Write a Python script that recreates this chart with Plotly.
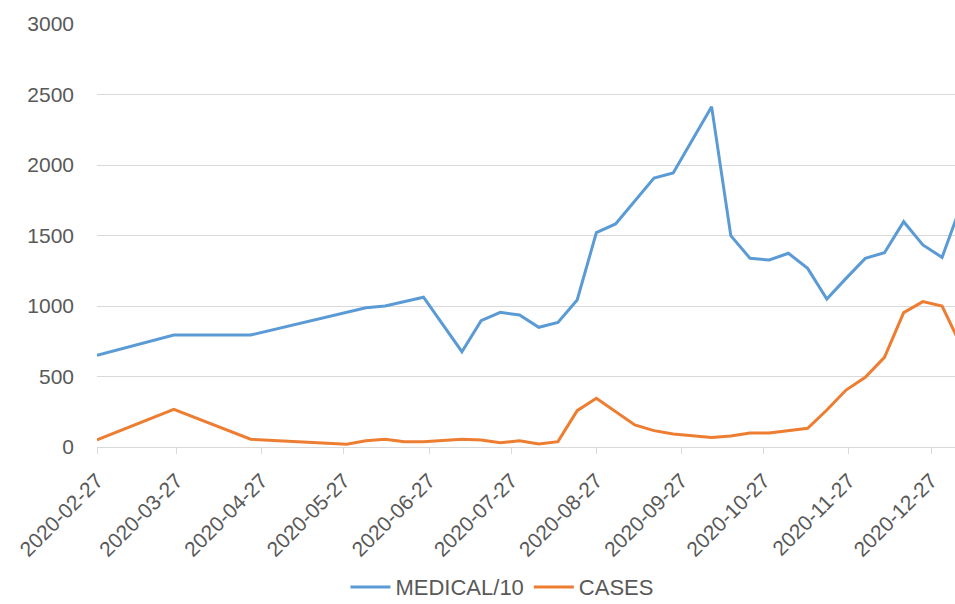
import plotly.graph_objects as go

medical_dates = ["2020-02-27", "2020-03-26", "2020-04-23", "2020-05-28", "2020-06-04",
                 "2020-06-11", "2020-06-25", "2020-07-09", "2020-07-16", "2020-07-23",
                 "2020-07-30", "2020-08-06", "2020-08-13", "2020-08-20", "2020-08-27",
                 "2020-09-03", "2020-09-17", "2020-09-24", "2020-10-08", "2020-10-15",
                 "2020-10-22", "2020-10-29", "2020-11-05", "2020-11-12", "2020-11-19",
                 "2020-11-26", "2020-12-03", "2020-12-10", "2020-12-17", "2020-12-24",
                 "2020-12-31", "2021-01-07"]
medical_div10 = [650, 794, 794, 955, 988,
                 1000, 1062, 676, 896, 955,
                 936, 849, 884, 1043, 1520,
                 1582, 1908, 1944, 2414, 1499,
                 1338, 1326, 1374, 1267, 1050,
                 1196, 1338, 1378, 1598, 1433,
                 1345, 1720]

cases_dates = ["2020-02-27", "2020-03-26", "2020-04-23", "2020-05-28", "2020-06-04",
               "2020-06-11", "2020-06-18", "2020-06-25", "2020-07-09", "2020-07-16",
               "2020-07-23", "2020-07-30", "2020-08-06", "2020-08-13", "2020-08-20",
               "2020-08-27", "2020-09-10", "2020-09-17", "2020-09-24", "2020-10-08",
               "2020-10-15", "2020-10-22", "2020-10-29", "2020-11-05", "2020-11-12",
               "2020-11-19", "2020-11-26", "2020-12-03", "2020-12-10", "2020-12-17",
               "2020-12-24", "2020-12-31", "2021-01-07"]
cases = [50, 267, 55, 20, 45,
         55, 38, 38, 55, 50,
         30, 45, 21, 38, 258,
         345, 156, 116, 92, 67,
         78, 100, 100, 116, 133,
         262, 404, 494, 636, 953,
         1031, 1000, 715]

x_ticks = ["2020-02-27", "2020-03-27", "2020-04-27", "2020-05-27", "2020-06-27",
           "2020-07-27", "2020-08-27", "2020-09-27", "2020-10-27", "2020-11-27",
           "2020-12-27"]
y_ticks = [0, 500, 1000, 1500, 2000, 2500, 3000]

grey = "#595959"
fnt = "Liberation Sans, Arial, sans-serif"

fig = go.Figure()
fig.add_trace(go.Scatter(x=medical_dates, y=medical_div10, mode="lines", name="MEDICAL/10",
                         line=dict(color="#5B9BD5", width=3)))
fig.add_trace(go.Scatter(x=cases_dates, y=cases, mode="lines", name="CASES",
                         line=dict(color="#ED7D31", width=3)))

fig.update_layout(
    width=955, height=604,
    margin=dict(l=97, r=0, t=24, b=157),
    paper_bgcolor="white", plot_bgcolor="white",
    font=dict(family=fnt, size=21, color=grey),
    showlegend=True,
    legend=dict(orientation="h", x=0.472, xanchor="center",
                yref="container", y=0.028, yanchor="middle",
                font=dict(size=22, color=grey), itemwidth=40),
    xaxis=dict(type="date", range=["2020-02-27", "2021-01-04 17:00"],
               tickmode="array", tickvals=x_ticks, ticktext=x_ticks,
               tickangle=-45, showgrid=False, showline=True, linecolor="#d9d9d9",
               linewidth=1, ticks="outside", ticklen=6, tickcolor="#d9d9d9",
               ticklabelstandoff=6, automargin=False,
               tickfont=dict(size=21, color=grey), zeroline=False),
    yaxis=dict(range=[0, 3000], tickvals=y_ticks, showgrid=True, gridcolor="#d9d9d9",
               gridwidth=1, zeroline=False, showline=False, ticks="",
               ticklabelstandoff=22, automargin=False,
               tickfont=dict(size=21, color=grey)),
)

fig.write_html("out.html")
